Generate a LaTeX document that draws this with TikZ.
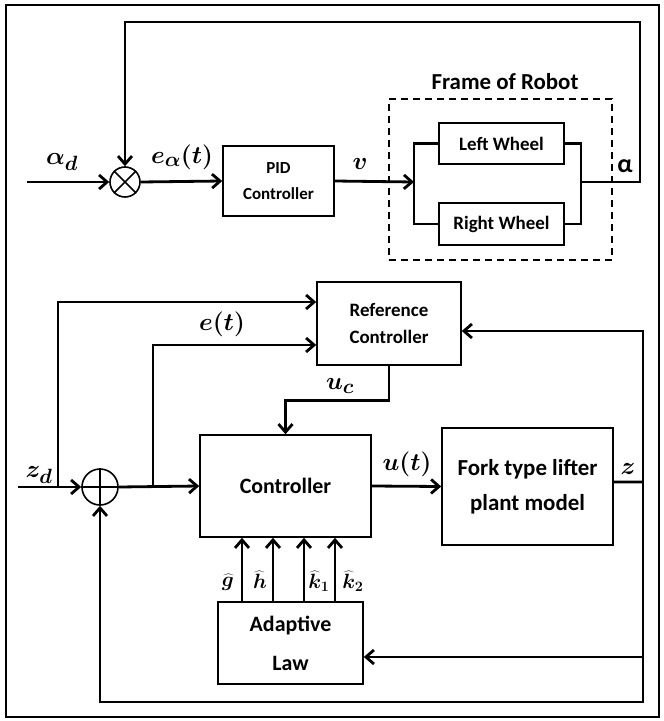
\documentclass[tikz,border=0pt]{standalone}
\usepackage{fontspec}
\setmainfont{Carlito}
\usepackage{bm}
\usetikzlibrary{arrows.meta,positioning}

\tikzset{
  blk/.style={draw, rectangle, line width=1.6bp, align=center, inner sep=0pt},
  sig/.style={line width=2.8bp, -{Straight Barb[length=8bp,width=14bp]}},
  wire/.style={line width=2.8bp},
  lbl/.style={inner sep=0pt, font=\fontsize{28}{30}\selectfont},
  hatlbl/.style={inner sep=0pt, font=\fontsize{22}{24}\selectfont},
  junction/.style={circle, draw, line width=1.6bp, inner sep=0pt},
}

\begin{document}
\begin{tikzpicture}[x=1bp, y=-1bp]
\useasboundingbox (0,0) rectangle (664,721);
\draw[line width=2bp] (6,5) rectangle (659,717);

% heading loop
\node (sumA) [junction, minimum size=30bp] at (125,182) {};
\draw[line width=1.6bp] (sumA.north west) -- (sumA.south east) (sumA.north east) -- (sumA.south west);
\node (pid) [blk, minimum width=111bp, minimum height=70bp, font=\fontsize{17}{26}\selectfont\bfseries] at (278.5,181) {PID\\Controller};
\node (leftw) [blk, minimum width=125bp, minimum height=41bp, font=\fontsize{19}{22}\selectfont\bfseries] at (501.5,143.5) {Left Wheel};
\node (rightw) [blk, minimum width=125bp, minimum height=42bp, font=\fontsize{19}{22}\selectfont\bfseries] at (501.5,224) {Right Wheel};
\node (frame) [draw, dash pattern=on 7bp off 5bp, line width=1.6bp, minimum width=223bp, minimum height=161bp] at (500.5,179.5) {};
\node (frametxt) [font=\fontsize{23}{26}\selectfont\bfseries] at (505,82) {Frame of Robot};

\coordinate (inA) at (27,182);
\coordinate (splitL) at (414,182);
\coordinate (joinR) at (581,182);
\coordinate (topR) at (640,22);

\draw[sig] (inA) -- (sumA.west);
\draw[sig] (sumA.east) -- (pid.west);
\draw[sig] (pid.east) -- (splitL);
\draw[wire] (leftw.west) -| (splitL) |- (rightw.west);
\draw[wire] (leftw.east) -| (joinR) |- (rightw.east);
\draw[sig] (joinR) -| (topR) -| (sumA.north);

\node (alphad) [lbl] at (62,162) {$\bm{\alpha_d}$};
\node (ealpha) [lbl] at (182,157) {$\bm{e_\alpha(t)}$};
\node (vel) [lbl] at (360,164) {$\bm{v}$};
\node (alphaout) [inner sep=0pt, font=\fontsize{26}{28}\selectfont\bfseries] at (625,166) {α};

% lifter loop
\node (sumB) [junction, minimum size=36bp] at (100,487) {};
\draw[line width=1.6bp] (sumB.north) -- (sumB.south) (sumB.west) -- (sumB.east);
\node (ref) [blk, minimum width=144bp, minimum height=83bp, font=\fontsize{19}{27}\selectfont\bfseries] at (389,323.5) {Reference\\Controller};
\node (ctrl) [blk, minimum width=171bp, minimum height=102bp, font=\fontsize{22}{26}\selectfont\bfseries] at (285.5,486) {Controller};
\node (fork) [blk, minimum width=171bp, minimum height=117bp, font=\fontsize{23}{35}\selectfont\bfseries] at (527.5,486.5) {Fork type lifter\\plant model};
\node (adapt) [blk, minimum width=145bp, minimum height=82bp, font=\fontsize{22}{39}\selectfont\bfseries] at (290.5,643) {Adaptive\\Law};

\coordinate (inB) at (18,487);
\coordinate (tapZ) at (58,487);
\coordinate (tapE) at (153,487);
\coordinate (tapO) at (643,482);
\coordinate (botL) at (100,702);

\draw[sig] (inB) -- (sumB.west);
\draw[sig] (sumB.east) -- (ctrl.west);
\draw[sig] (tapZ) |- ([yshift=21.5bp]ref.west);
\draw[sig] (tapE) |- ([yshift=-21.5bp]ref.west);
\draw[sig] (ref.south) -- ++(0,35) -| (ctrl.north);
\draw[sig] (ctrl.east) -- (fork.west);
\draw[wire] ([yshift=4.5bp]fork.east) -- (tapO);
\draw[sig] (tapO) |- ([yshift=-7.5bp]ref.east);
\draw[sig] (tapO) |- ([yshift=-14bp]adapt.east);
\draw[sig] (tapO) |- (botL) -- (sumB.south);

\foreach \d [count=\i] in {-48.5,-17.5,13.5,44.5}{
  \coordinate (par\i) at ([xshift=\d bp]adapt.north);
  \draw[sig] (par\i) -- (par\i |- ctrl.south);
}

\node (zd) [lbl] at (39,475) {$\bm{z_d}$};
\node (err) [lbl] at (222,324) {$\bm{e(t)}$};
\node (uc) [lbl] at (340,386) {$\bm{u_c}$};
\node (ut) [lbl] at (407,464) {$\bm{u(t)}$};
\node (zout) [lbl] at (628,469) {$\bm{z}$};
\node (ghat) [hatlbl] at (228,582) {$\bm{\widehat{g}}$};
\node (hhat) [hatlbl] at (260,580) {$\bm{\widehat{h}}$};
\node (kone) [hatlbl] at (319,581) {$\bm{\widehat{k}_1}$};
\node (ktwo) [hatlbl] at (353,581) {$\bm{\widehat{k}_2}$};
\end{tikzpicture}
\end{document}
